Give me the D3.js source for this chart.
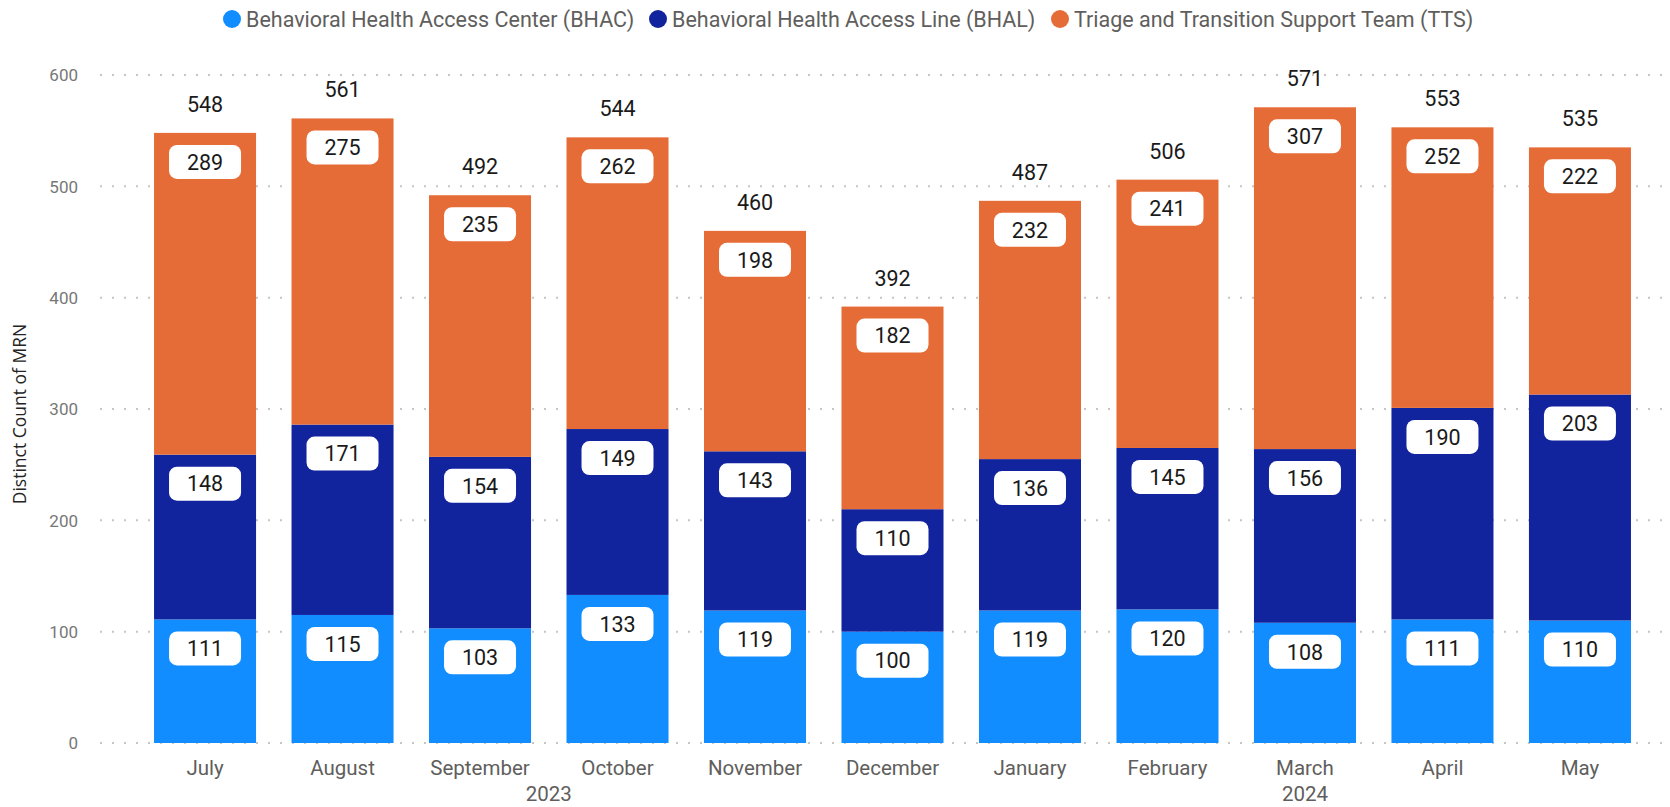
<!DOCTYPE html>
<html>
<head>
<meta charset="utf-8">
<script src="https://cdn.jsdelivr.net/npm/d3@7"></script>
<style>
  html, body { margin: 0; padding: 0; background: #fff; }
  svg { display: block; }
</style>
</head>
<body>
<svg id="chart" width="1670" height="807"></svg>
<script>
const months = ["July","August","September","October","November","December","January","February","March","April","May"];
const years = [
  { label: "2023", first: "July", last: "December" },
  { label: "2024", first: "January", last: "May" }
];
const seriesNames = [
  "Behavioral Health Access Center (BHAC)",
  "Behavioral Health Access Line (BHAL)",
  "Triage and Transition Support Team (TTS)"
];
const bhac = [111,115,103,133,119,100,119,120,108,111,110];
const bhal = [148,171,154,149,143,110,136,145,156,190,203];
const tts  = [289,275,235,262,198,182,232,241,307,252,222];
const yTicks = [0,100,200,300,400,500,600];
const colors = ["#118DFF","#12239E","#E66C37"];

(function () {
const svg = d3.select("#chart");
const W = 1670, H = 807;
const font = "Roboto, 'DejaVu Sans', sans-serif";

const x = d3.scaleBand().domain(months).range([100, 1685]).paddingInner(0.258).paddingOuter(0.393);
const y = d3.scaleLinear().domain([0, 600]).range([743, 75]);

// Grid lines (dotted)
const grid = svg.append("g");
grid.selectAll("line").data(yTicks).join("line")
  .attr("x1", 100).attr("x2", W)
  .attr("y1", d => y(d)).attr("y2", d => y(d))
  .attr("stroke", "#c8c6c4").attr("stroke-width", 2)
  .attr("stroke-dasharray", "2,10");

// Y axis
const yAxis = d3.axisLeft(y).tickValues(yTicks).tickSize(0).tickPadding(0);
const yg = svg.append("g").attr("transform", "translate(78,0)").call(yAxis);
yg.select(".domain").remove();
yg.selectAll("text").attr("font-family", font).attr("font-size", 17).attr("fill", "#777")
  .attr("dy", "0.35em");

// Y title
svg.append("text")
  .attr("transform", "translate(26,414) rotate(-90)")
  .attr("text-anchor", "middle")
  .attr("font-family", "'Open Sans', 'Noto Sans', sans-serif")
  .attr("font-size", 17.5).attr("fill", "#252423")
  .text("Distinct Count of MRN");

// Stack
const rows = months.map((m, i) => ({ month: m, s0: bhac[i], s1: bhal[i], s2: tts[i] }));
const stack = d3.stack().keys(["s0","s1","s2"])(rows);

const gBars = svg.append("g");
stack.forEach((layer, k) => {
  gBars.selectAll(null).data(layer).join("rect")
    .attr("x", d => x(d.data.month))
    .attr("width", x.bandwidth())
    .attr("y", d => y(d[1]))
    .attr("height", d => y(d[0]) - y(d[1]))
    .attr("fill", colors[k]);
});

// Segment labels
const gLab = svg.append("g");
stack.forEach((layer, k) => {
  layer.forEach(d => {
    const v = d[1] - d[0];
    const cx = x(d.data.month) + x.bandwidth() / 2;
    const boxTop = y(d[1]) + 12;
    const bw = 72, bh = 34;
    gLab.append("rect")
      .attr("x", cx - bw / 2).attr("y", boxTop)
      .attr("width", bw).attr("height", bh)
      .attr("rx", 8).attr("ry", 8)
      .attr("fill", "#fff");
    gLab.append("text")
      .attr("x", cx).attr("y", boxTop + bh / 2)
      .attr("dy", "0.36em")
      .attr("text-anchor", "middle")
      .attr("font-family", font).attr("font-size", 21.5)
      .attr("fill", "#1a1a1a")
      .text(v);
  });
});

// Totals
const lastLayer = stack[stack.length - 1];
svg.append("g").selectAll("text").data(lastLayer).join("text")
  .attr("x", d => x(d.data.month) + x.bandwidth() / 2)
  .attr("y", d => y(d[1]) - 21)
  .attr("text-anchor", "middle")
  .attr("font-family", font).attr("font-size", 21.5)
  .attr("fill", "#1a1a1a")
  .text(d => d[1]);

// X axis
const xAxis = d3.axisBottom(x).tickSize(0).tickPadding(0);
const xg = svg.append("g").attr("transform", "translate(0,775)").call(xAxis);
xg.select(".domain").remove();
xg.selectAll("text").attr("font-family", font).attr("font-size", 20.5).attr("fill", "#605E5C")
  .attr("dy", 0);

// Year labels
svg.append("g").selectAll("text").data(years).join("text")
  .attr("x", d => (x(d.first) + x(d.last) + x.bandwidth()) / 2)
  .attr("y", 801)
  .attr("text-anchor", "middle")
  .attr("font-family", font).attr("font-size", 20.5).attr("fill", "#605E5C")
  .text(d => d.label);

// Legend
const legendX = [232, 658, 1060];
const lg = svg.append("g");
seriesNames.forEach((name, i) => {
  lg.append("circle").attr("cx", legendX[i]).attr("cy", 19).attr("r", 9).attr("fill", colors[i]);
  lg.append("text").attr("x", legendX[i] + 14).attr("y", 19).attr("dy", "0.35em")
    .attr("font-family", font).attr("font-size", 21.5).attr("fill", "#605E5C")
    .text(name);
});
})();
</script>
</body>
</html>
